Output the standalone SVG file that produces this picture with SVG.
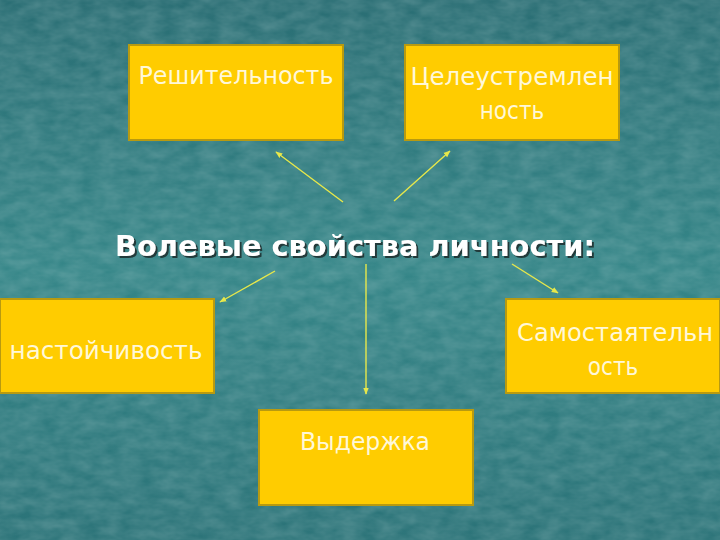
<svg xmlns="http://www.w3.org/2000/svg" width="720" height="540" viewBox="0 0 720 540">
<defs>
<linearGradient id="bg" x1="0" y1="0" x2="0" y2="1">
<stop offset="0" stop-color="#2a6e74"/>
<stop offset="0.5" stop-color="#358688"/>
<stop offset="1" stop-color="#2b7378"/>
</linearGradient>
<filter id="tex" x="0" y="0" width="100%" height="100%">
<feTurbulence type="fractalNoise" baseFrequency="0.05 0.1" numOctaves="3" seed="4" result="n"/>
<feColorMatrix in="n" type="matrix" values="0 0 0 0 0.6  0 0 0 0 0.75  0 0 0 0 0.75  0 0 0 0.3 -0.05"/>
</filter>
<marker id="ah" viewBox="0 0 10 10" refX="9" refY="5" markerWidth="5" markerHeight="5" orient="auto">
<path d="M0,1 L10,5 L0,9 z" fill="#e8e84a"/>
</marker>
<filter id="sh" x="-5%" y="-20%" width="110%" height="140%">
<feDropShadow dx="2" dy="2" stdDeviation="0.6" flood-color="#1a3030" flood-opacity="0.9"/>
</filter>
</defs>
<style>
.box{fill:#ffcc00;stroke:#b89a10;stroke-width:2}
.lbl{font-family:"DejaVu Sans Condensed","DejaVu Sans",sans-serif;font-size:24px;fill:#fff8d8;text-anchor:middle}
.title{font-family:"DejaVu Sans Condensed","DejaVu Sans",sans-serif;font-size:29px;font-weight:bold;fill:#ffffff;text-anchor:middle}
.con line{stroke:#e8e84a;stroke-width:1.4;marker-end:url(#ah)}
</style>
<rect width="720" height="540" fill="url(#bg)"/>
<rect width="720" height="540" filter="url(#tex)"/>
<g id="title"><text class="title" x="355" y="256" textLength="480" lengthAdjust="spacingAndGlyphs" filter="url(#sh)">Волевые свойства личности:</text></g>
<g id="n1"><rect class="box" x="129" y="45" width="214" height="95"/><text class="lbl" x="236" y="84" textLength="195" lengthAdjust="spacingAndGlyphs">Решительность</text></g>
<g id="n2"><rect class="box" x="405" y="45" width="214" height="95"/><text class="lbl" x="512" y="85" textLength="203" lengthAdjust="spacingAndGlyphs">Целеустремлен</text><text class="lbl" x="512" y="119">ность</text></g>
<g id="n3"><rect class="box" x="0" y="299" width="214" height="94"/><text class="lbl" x="106" y="359" textLength="193" lengthAdjust="spacingAndGlyphs">настойчивость</text></g>
<g id="n4"><rect class="box" x="506" y="299" width="214" height="94"/><text class="lbl" x="615" y="341" textLength="196" lengthAdjust="spacingAndGlyphs">Самостаятельн</text><text class="lbl" x="613" y="375">ость</text></g>
<g id="n5"><rect class="box" x="259" y="410" width="214" height="95"/><text class="lbl" x="365" y="450" textLength="130" lengthAdjust="spacingAndGlyphs">Выдержка</text></g>
<g class="con" id="connectors">
<line x1="343" y1="202" x2="276" y2="152"/>
<line x1="394" y1="201" x2="450" y2="151"/>
<line x1="275" y1="271" x2="220" y2="302"/>
<line x1="512" y1="264" x2="558" y2="293"/>
<line x1="366" y1="264" x2="366" y2="394"/>
</g>
</svg>
